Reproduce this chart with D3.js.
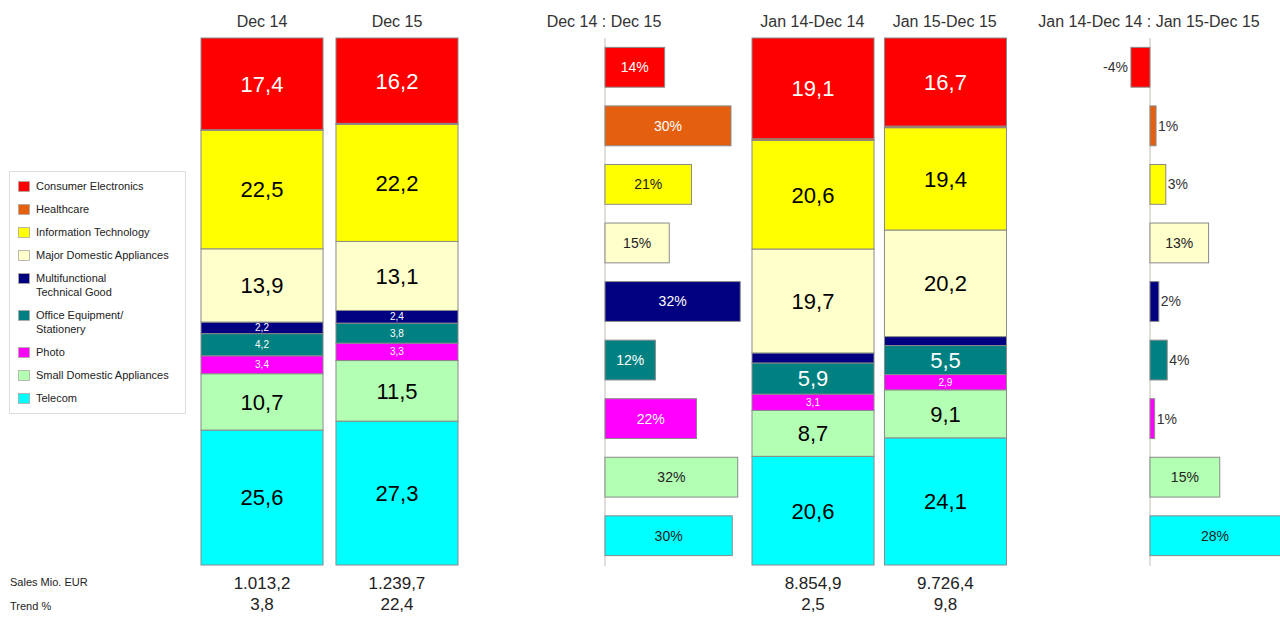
<!DOCTYPE html>
<html>
<head>
<meta charset="utf-8">
<script src="https://cdn.jsdelivr.net/npm/d3@7"></script>
<style>
  html, body { margin: 0; padding: 0; background: #fff; }
  svg { display: block; font-family: "Liberation Sans", Arial, sans-serif; }
</style>
</head>
<body>
<svg id="chart" width="1280" height="628"></svg>
<script>
// --- data ---
const categories = [
  'Consumer Electronics', 'Healthcare', 'Information Technology',
  'Major Domestic Appliances', 'Multifunctional Technical Good',
  'Office Equipment/ Stationery', 'Photo', 'Small Domestic Appliances', 'Telecom'
];
const legendLines = [
  ['Consumer Electronics'], ['Healthcare'], ['Information Technology'],
  ['Major Domestic Appliances'], ['Multifunctional', 'Technical Good'],
  ['Office Equipment/', 'Stationery'], ['Photo'], ['Small Domestic Appliances'], ['Telecom']
];
const periods = ['Dec 14', 'Dec 15', 'Jan 14-Dec 14', 'Jan 15-Dec 15'];

// market share in % per period (same order as categories)
const shareDec14 = [17.4, 0.1, 22.5, 13.9, 2.2, 4.2, 3.4, 10.7, 25.6];
const shareDec15 = [16.2, 0.2, 22.2, 13.1, 2.4, 3.8, 3.3, 11.5, 27.3];
const shareJan14Dec14 = [19.1, 0.3, 20.6, 19.7, 1.9, 5.9, 3.1, 8.7, 20.6];
const shareJan15Dec15 = [16.7, 0.3, 19.4, 20.2, 1.7, 5.5, 2.9, 9.1, 24.1];

const salesMio = [1013.2, 1239.7, 8854.9, 9726.4];
const trendPct = [3.8, 22.4, 2.5, 9.8];

// growth in % per category
const changeDec = [14.2, 30.0, 20.6, 15.3, 32.2, 12.0, 21.8, 31.6, 30.3];
const changeYear = [-4.1, 1.3, 3.4, 12.6, 1.9, 3.7, 1.0, 15.0, 28.2];

const rowLabels = ['Sales Mio. EUR', 'Trend %'];

// --- styles ---
const colors = ['#ff0000', '#e4600f', '#ffff00', '#ffffcc', '#000080', '#008080', '#ff00ff', '#b3ffb3', '#00ffff'];
const textColors = ['#fff', '#fff', '#000', '#000', '#fff', '#fff', '#fff', '#000', '#000'];
const strokeCol = '#8a8a8a';

const loc = d3.formatLocale({ decimal: ',', thousands: '.', grouping: [3], currency: ['', ''], minus: '-' });
const fmt1 = loc.format(',.1f');
const fmtPct = loc.format('.0f');

const svg = d3.select('#chart');

// --- stacked columns ---
const shares = [shareDec14, shareDec15, shareJan14Dec14, shareJan15Dec15];
const rows = periods.map((p, i) => {
  const r = { period: p };
  categories.forEach((c, j) => { r[c] = shares[i][j]; });
  return r;
});

const stack = d3.stack()
  .keys(categories.slice().reverse())
  .offset(d3.stackOffsetExpand);
const series = stack(rows);

const y = d3.scaleLinear().domain([0, 1]).range([565, 38]);

const xA = d3.scaleBand().domain(periods.slice(0, 2)).range([201, 458]).paddingInner(0.096);
const xB = d3.scaleBand().domain(periods.slice(2, 4)).range([752, 1005]).paddingInner(0.09);
const xPos = p => (xA.domain().includes(p) ? xA(p) : xB(p));
const bw = xA.bandwidth();

series.forEach(s => {
  const ci = categories.indexOf(s.key);
  const g = svg.append('g');
  s.forEach((d, i) => {
    const x0 = xPos(periods[i]);
    const y0 = y(d[1]);
    const h = y(d[0]) - y(d[1]);
    g.append('rect')
      .attr('x', x0).attr('y', y0)
      .attr('width', bw).attr('height', h)
      .attr('fill', colors[ci])
      .attr('stroke', strokeCol).attr('stroke-width', 1);
    const v = shares[i][ci];
    if (v >= 2) {
      const big = v >= 5;
      g.append('text')
        .attr('x', x0 + bw / 2)
        .attr('y', y0 + h / 2)
        .attr('dy', big ? '0.36em' : '0.35em')
        .attr('text-anchor', 'middle')
        .attr('font-size', big ? 22 : 10)
        .attr('fill', textColors[ci])
        .text(fmt1(v));
    }
  });
});

// --- growth bars ---
const yBand = d3.scaleBand().domain(categories).range([38, 565]).paddingInner(0.32).paddingOuter(0.16);

function growthChart(values, axisX, pxPerTen) {
  const x = d3.scaleLinear().domain([0, 10]).range([axisX, axisX + pxPerTen]);
  const g = svg.append('g');
  g.append('line')
    .attr('x1', x(0)).attr('x2', x(0))
    .attr('y1', 38).attr('y2', 566)
    .attr('stroke', '#cfc8c0').attr('stroke-width', 1.2);
  values.forEach((v, i) => {
    const c = categories[i];
    const x0 = Math.min(x(0), x(v));
    const w = Math.abs(x(v) - x(0));
    g.append('rect')
      .attr('x', x0).attr('y', yBand(c))
      .attr('width', w).attr('height', yBand.bandwidth())
      .attr('fill', colors[i])
      .attr('stroke', strokeCol).attr('stroke-width', 1);
    const label = fmtPct(v) + '%';
    const cy = yBand(c) + yBand.bandwidth() / 2;
    if (w > 35) {
      g.append('text')
        .attr('x', x0 + Math.min(w, 1280 - x0) / 2).attr('y', cy).attr('dy', '0.35em')
        .attr('text-anchor', 'middle').attr('font-size', 14)
        .attr('fill', textColors[i] === '#fff' ? '#fff' : '#222')
        .text(label);
    } else {
      g.append('text')
        .attr('x', v < 0 ? x(v) - 3 : x(v) + 2).attr('y', cy).attr('dy', '0.35em')
        .attr('text-anchor', v < 0 ? 'end' : 'start').attr('font-size', 14)
        .attr('fill', '#333')
        .text(label);
    }
  });
}

growthChart(changeDec, 605, 42);
growthChart(changeYear, 1150, 46.5);

// --- headers ---
const headers = [
  { t: periods[0], x: xA(periods[0]) + bw / 2 },
  { t: periods[1], x: xA(periods[1]) + bw / 2 },
  { t: periods[0] + ' : ' + periods[1], x: 604 },
  { t: periods[2], x: xB(periods[2]) + xB.bandwidth() / 2 },
  { t: periods[3], x: xB(periods[3]) + xB.bandwidth() / 2 },
  { t: periods[2] + ' : ' + periods[3], x: 1149 }
];
svg.append('g').selectAll('text').data(headers).join('text')
  .attr('x', d => d.x).attr('y', 27)
  .attr('text-anchor', 'middle')
  .attr('font-size', 16)
  .attr('fill', '#333')
  .text(d => d.t);

// --- sales / trend rows ---
const footer = svg.append('g');
footer.selectAll('text.rl').data(rowLabels).join('text')
  .attr('class', 'rl')
  .attr('x', 10).attr('y', (d, i) => 586 + i * 24)
  .attr('font-size', 11).attr('fill', '#222')
  .text(d => d);
periods.forEach((p, i) => {
  const cx = xPos(p) + bw / 2;
  footer.append('text')
    .attr('x', cx).attr('y', 589)
    .attr('text-anchor', 'middle').attr('font-size', 17).attr('fill', '#222')
    .text(fmt1(salesMio[i]));
  footer.append('text')
    .attr('x', cx).attr('y', 610)
    .attr('text-anchor', 'middle').attr('font-size', 17).attr('fill', '#222')
    .text(fmt1(trendPct[i]));
});

// --- legend ---
const legend = svg.append('g');
legend.append('rect')
  .attr('x', 9.5).attr('y', 171.5).attr('width', 176).attr('height', 242)
  .attr('fill', '#fff').attr('stroke', '#ddd');
let ly = 186;
legendLines.forEach((lines, i) => {
  legend.append('rect')
    .attr('x', 18.5).attr('y', ly - 4.5).attr('width', 11).attr('height', 10)
    .attr('fill', colors[i]).attr('stroke', '#b0a8a0').attr('stroke-width', 0.8);
  lines.forEach((ln, k) => {
    legend.append('text')
      .attr('x', 36).attr('y', ly + k * 14).attr('dy', '0.35em')
      .attr('font-size', 11).attr('fill', '#222')
      .text(ln);
  });
  ly += lines.length > 1 ? 37 : 23;
});
</script>
</body>
</html>
